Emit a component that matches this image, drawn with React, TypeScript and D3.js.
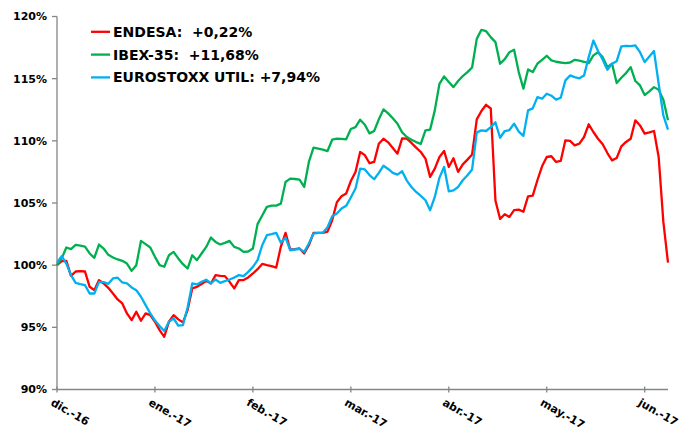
import React from "react";
import * as d3 from "d3";

const monthLabels = ["dic.-16", "ene.-17", "feb.-17", "mar.-17", "abr.-17", "may.-17", "jun.-17"];
const tickEvery = 21;
const yTicks = [90, 95, 100, 105, 110, 115, 120];

const endesa = [
  100.0, 100.32, 100.35, 99.14, 99.49, 99.52, 99.49, 98.26, 97.99, 98.8,
  98.53, 98.18, 97.72, 97.24, 96.92, 96.12, 95.58, 96.25, 95.53, 96.12,
  95.98, 95.45, 94.78, 94.24, 95.45, 95.98, 95.64, 95.4, 96.39, 98.13,
  98.26, 98.48, 98.74, 98.53, 99.2, 99.14, 99.12, 98.66, 98.13, 98.8,
  98.8, 99.01, 99.33, 99.68, 100.1, 100.0, 99.92, 99.81, 101.5, 102.6,
  101.26, 101.29, 101.34, 100.94, 101.6, 102.6, 102.6, 102.6, 102.7, 103.61,
  105.06, 105.54, 105.76, 106.77, 107.5, 109.1, 108.85, 108.2, 108.3, 109.77,
  110.17, 109.88, 109.42, 108.97, 110.2, 110.17, 109.83, 109.45, 109.1, 108.57,
  107.1, 107.76, 108.7, 109.18, 107.9, 108.6, 107.5, 108.11, 108.49, 108.9,
  111.73, 112.4, 112.9, 112.6, 105.2, 103.72, 104.1, 103.88, 104.42, 104.47,
  104.3, 105.54, 105.6, 106.83, 107.95, 108.7, 108.76, 108.3, 108.38, 110.04,
  109.99, 109.64, 109.77, 110.31, 111.33, 110.71, 110.17, 109.72, 109.02, 108.43,
  108.62, 109.56, 109.91, 110.17, 111.65, 111.24, 110.58, 110.68, 110.79, 108.7,
  103.5, 100.2,
];

const ibex = [
  100.0, 100.54, 101.42, 101.29, 101.63, 101.58, 101.5, 100.94, 100.59, 101.66,
  101.34, 100.83, 100.62, 100.46, 100.35, 100.13, 99.54, 100.0, 101.95, 101.69,
  101.42, 100.67, 100.0, 99.87, 100.8, 101.07, 100.54, 100.08, 99.73, 100.8,
  100.4, 100.94, 101.47, 102.22, 101.87, 101.66, 101.79, 101.95, 101.47, 101.34,
  101.07, 101.1, 101.34, 103.3, 104.0, 104.69, 104.79, 104.79, 104.95, 106.69,
  106.96, 106.93, 106.88, 106.29, 108.3, 109.45, 109.37, 109.29, 109.18, 110.09,
  110.17, 110.15, 110.12, 110.95, 111.1, 111.7, 111.3, 110.6, 110.79, 111.73,
  112.53, 112.21, 111.81, 111.38, 110.68, 110.31, 110.09, 109.9, 109.75, 110.84,
  110.9, 112.45, 114.59, 115.18, 114.73, 114.32, 114.81, 115.21, 115.53, 115.9,
  118.2, 118.93, 118.82, 118.34, 117.94, 116.2, 116.57, 117.13, 117.32, 115.53,
  114.2, 115.74, 115.53, 116.2, 116.52, 116.84, 116.47, 116.36, 116.3, 116.25,
  116.3, 116.52, 116.45, 116.36, 116.25, 116.87, 117.13, 116.73, 115.93, 116.2,
  114.65, 115.07, 115.45, 115.93, 114.81, 114.46, 113.68, 113.98, 114.32, 114.1,
  113.3, 111.65,
];

const eurostoxx = [
  100.2, 100.72, 100.13, 99.2, 98.58, 98.47, 98.39, 97.72, 97.72, 98.66,
  98.64, 98.5, 98.93, 98.99, 98.61, 98.53, 98.21, 97.99, 97.46, 96.79,
  96.12, 95.55, 95.1, 94.7, 95.45, 95.72, 95.13, 95.18, 96.6, 98.53,
  98.45, 98.66, 98.83, 98.53, 98.85, 98.58, 98.72, 98.85, 99.0, 99.2,
  99.12, 99.46, 99.86, 100.4, 101.6, 102.41, 102.49, 102.6, 101.8, 102.22,
  101.2, 101.26, 101.31, 101.07, 101.74, 102.54, 102.6, 102.6, 103.05, 103.93,
  104.15, 104.55, 104.77, 105.44, 106.16, 107.76, 107.7, 107.25, 106.91, 107.42,
  108.0, 107.74, 107.42, 107.28, 107.55, 106.8, 106.29, 105.89, 105.57, 105.22,
  104.42, 105.49, 107.04, 107.9, 105.94, 106.02, 106.29, 106.83, 107.23, 107.7,
  110.68, 110.84, 110.79, 111.1, 111.49, 110.25, 110.79, 110.87, 111.38, 110.74,
  110.4, 112.45, 112.61, 113.52, 113.39, 113.79, 113.63, 113.31, 113.47, 114.86,
  115.26, 115.13, 115.03, 115.26, 116.73, 118.07, 117.22, 116.52, 115.72, 116.2,
  116.41, 117.59, 117.64, 117.62, 117.67, 117.13, 116.33, 116.79, 117.22, 114.59,
  112.05, 110.9,
];

const seriesNames = ["ENDESA:  +0,22%", "IBEX-35:  +11,68%", "EUROSTOXX UTIL: +7,94%"];
const seriesColors = ["#FF0000", "#00B050", "#00B0F0"];

export default function App() {
  const W = 681;
  const H = 428;
  const left = 57;
  const right = 668;
  const top = 16.5;
  const bottom = 389.5;
  const n = endesa.length;
  const x = d3.scaleLinear().domain([0, n - 1]).range([left, right]);
  const y = d3.scaleLinear().domain([90, 120]).range([bottom, top]);
  const line = d3
    .line<number>()
    .x((_, i) => x(i))
    .y((d) => y(d));
  const data = [endesa, ibex, eurostoxx];
  const axisColor = "#868686";
  const font = "'DejaVu Sans', Verdana, sans-serif";

  return (
    <svg
      width={W}
      height={H}
      style={{ position: "absolute", left: 0, top: 0, background: "#fff" }}
      fontFamily={font}
    >
      <rect x={0} y={0} width={W} height={H} fill="#fff" />
      {/* y axis */}
      <line x1={left} x2={left} y1={top} y2={bottom} stroke={axisColor} strokeWidth={1.3} />
      {yTicks.map((t) => (
        <g key={t}>
          <line x1={left - 5} x2={left} y1={y(t)} y2={y(t)} stroke={axisColor} strokeWidth={1.3} />
          <text
            x={left - 10}
            y={y(t)}
            dy="0.36em"
            textAnchor="end"
            fontSize={11}
            fontWeight="bold"
            fill="#000"
          >
            {t}%
          </text>
        </g>
      ))}
      {/* x axis */}
      <line x1={left} x2={right} y1={bottom} y2={bottom} stroke={axisColor} strokeWidth={1.3} />
      {monthLabels.map((m, k) => {
        const tx = x(k * tickEvery);
        return (
          <g key={m}>
            <line x1={tx} x2={tx} y1={bottom - 3} y2={bottom + 3} stroke={axisColor} strokeWidth={1.3} />
            <text
              transform={`translate(${tx - 3},${bottom + 8}) rotate(30)`}
              dy="0.75em"
              fontSize={11}
              fontWeight="bold"
              fill="#000"
            >
              {m}
            </text>
          </g>
        );
      })}
      {/* lines */}
      {data.map((s, k) => (
        <path
          key={k}
          d={line(s) || ""}
          fill="none"
          stroke={seriesColors[k]}
          strokeWidth={2.3}
          strokeLinejoin="round"
        />
      ))}
      {/* legend */}
      {seriesNames.map((name, k) => {
        const cy = 31.8 + k * 22.8;
        return (
          <g key={name}>
            <line x1={91} x2={110} y1={cy} y2={cy} stroke={seriesColors[k]} strokeWidth={2.3} />
            <text
              x={113}
              y={cy}
              dy="0.36em"
              fontSize={14}
              fontWeight="bold"
              fill="#000"
              style={{ whiteSpace: "pre" }}
            >
              {name}
            </text>
          </g>
        );
      })}
    </svg>
  );
}
